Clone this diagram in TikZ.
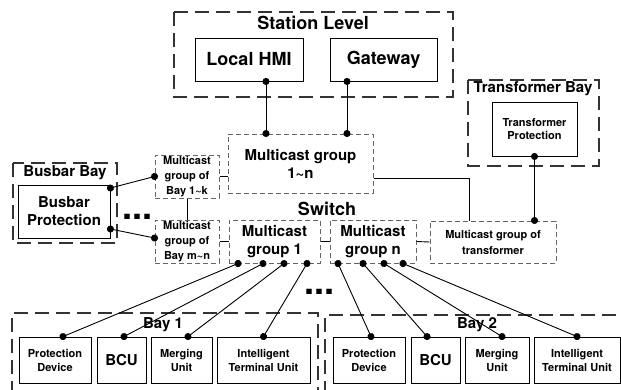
\documentclass[tikz,border=0pt]{standalone}
\usepackage{fontspec}
\setmainfont{TeX Gyre Heros}
\usetikzlibrary{arrows.meta,calc}

\newcommand{\bigtxt}{\fontsize{18}{20}\selectfont\bfseries}
\newcommand{\midtxt}{\fontsize{15}{18}\selectfont\bfseries}
\newcommand{\smalltxt}{\fontsize{11}{14}\selectfont\bfseries}

\begin{document}
\begin{tikzpicture}[x=1pt,y=-1pt,
  box/.style={draw,line width=0.9pt,align=center,inner sep=1pt},
  grp/.style={draw=black!60,line width=1pt,dash pattern=on 5pt off 3pt,align=center,inner sep=1pt},
  frame/.style={draw=black!80,line width=1.3pt,dash pattern=on 14pt off 7pt},
  wire/.style={line width=0.9pt},
  link/.style={line width=0.9pt,{Circle[length=7pt]}-{Circle[length=7pt]},shorten <=-3.5pt,shorten >=-3.5pt}]
\useasboundingbox (0,0) rectangle (621,389);

% station level
\draw[frame] (174,12) rectangle (453,97);
\node[font=\bigtxt] (sttitle) at (313,23) {Station Level};
\node[box,font=\bigtxt,minimum width=108pt,minimum height=43pt] (hmi) at (249,59.5) {Local HMI};
\node[box,font=\bigtxt,minimum width=107pt,minimum height=43pt] (gw) at (383.5,59.5) {Gateway};

% switch
\node[grp,font=\midtxt,minimum width=145pt,minimum height=59pt] (mcall) at (300.5,163.5) {Multicast group\\1\textasciitilde n};
\node[font=\bigtxt] (switch) at (327,209) {Switch};
\node[grp,font=\midtxt,minimum width=91pt,minimum height=43pt] (g1) at (274.5,241.5) {Multicast\\group 1};
\node[grp,font=\midtxt,minimum width=86pt,minimum height=43pt] (gn) at (373,241.5) {Multicast\\group n};
\node[grp,font=\fontsize{11}{16}\selectfont\bfseries,minimum width=126pt,minimum height=42pt] (mctr) at (493,242) {Multicast group of\\transformer};
\node[grp,font=\fontsize{11}{15}\selectfont\bfseries,minimum width=64pt,minimum height=43pt] (mb1) at (187,176.5) {Multicast\\group of\\Bay 1\textasciitilde k};
\node[grp,font=\fontsize{11}{15}\selectfont\bfseries,minimum width=64pt,minimum height=43pt] (mb2) at (187,241.5) {Multicast\\group of\\Bay m\textasciitilde n};

% transformer bay
\draw[frame] (468,80) rectangle (599,166);
\node[font=\midtxt] (trtitle) at (533,89) {Transformer Bay};
\node[box,font=\fontsize{11}{13}\selectfont\bfseries,minimum width=85pt,minimum height=54pt] (trp) at (534.5,129) {Transformer\\Protection};

% busbar bay
\draw[frame] (13,163) rectangle (117,243);
\node[font=\midtxt] (bbtitle) at (65,173) {Busbar Bay};
\node[box,font=\midtxt,minimum width=92pt,minimum height=53pt] (bbp) at (64,211.5) {Busbar\\Protection};

\node[font=\fontsize{36}{36}\selectfont\bfseries] (dotsa) at (137.5,217) {...};
\node[font=\fontsize{36}{36}\selectfont\bfseries] (dotsb) at (319.5,292) {...};

% bays
\draw[frame] (12,395) |- (318,313) -- (318,395);
\node[font=\midtxt] (bayatitle) at (163,325) {Bay 1};
\draw[frame] (325,395) |- (630,315);
\node[font=\midtxt] (baybtitle) at (477,325) {Bay 2};

\node[box,font=\smalltxt,minimum width=72pt,minimum height=46pt] (pda) at (55,360) {Protection\\Device};
\node[box,font=\midtxt,minimum width=49pt,minimum height=46pt] (bcua) at (121.5,360) {BCU};
\node[box,font=\smalltxt,minimum width=61pt,minimum height=46pt] (mua) at (181.5,360) {Merging\\Unit};
\node[box,font=\smalltxt,minimum width=93pt,minimum height=46pt] (itua) at (263.5,360) {Intelligent\\Terminal Unit};
\node[box,font=\smalltxt,minimum width=72pt,minimum height=46pt] (pdb) at (369,360) {Protection\\Device};
\node[box,font=\midtxt,minimum width=49pt,minimum height=46pt] (bcub) at (435.5,360) {BCU};
\node[box,font=\smalltxt,minimum width=64pt,minimum height=46pt] (mub) at (497,360) {Merging\\Unit};
\node[box,font=\smalltxt,minimum width=86pt,minimum height=46pt] (itub) at (577,360) {Intelligent\\Terminal Unit};

% links between groups
\draw[wire] (mb1.east) -- (mb1.east -| mcall.west);
\draw[wire] (mb1.south) -- (mb2.north);
\draw[wire] (mb2.east) -- (g1.west);
\draw[wire] (g1.east) -- (gn.west);
\draw[wire] (gn.east) -- (mctr.west);
\draw[wire] ([yshift=-14.5pt]mcall.east) -| ([xshift=-24pt]mctr.north);

% links with dots
\draw[link] ([xshift=17pt]hmi.south) -- ([xshift=17pt]hmi.south |- mcall.north);
\draw[link] ([xshift=-36.5pt]gw.south) -- ([xshift=-36.5pt]gw.south |- mcall.north);
\draw[link] (trp.south) -- (trp.south |- mctr.north);
\draw[link] ([yshift=23.5pt]bbp.east) -- (mb1.west);
\draw[link] ([yshift=-17.5pt]bbp.east) -- ([yshift=3.5pt]mb2.west);

\draw[link] ([xshift=-36.5pt]g1.south) -- ([xshift=8pt]pda.north);
\draw[link] ([xshift=-11.5pt]g1.south) -- ([xshift=2.5pt]bcua.north);
\draw[link] ([xshift=9.5pt]g1.south) -- ([xshift=6.5pt]mua.north);
\draw[link] ([xshift=32.5pt]g1.south) -- (itua.north);
\draw[link] ([xshift=-35pt]gn.south) -- ([xshift=2pt]pdb.north);
\draw[link] ([xshift=-10pt]gn.south) -- ([xshift=-8.5pt]bcub.north);
\draw[link] ([xshift=11pt]gn.south) -- ([xshift=5pt]mub.north);
\draw[link] ([xshift=30pt]gn.south) -- (itub.north);

\end{tikzpicture}
\end{document}
